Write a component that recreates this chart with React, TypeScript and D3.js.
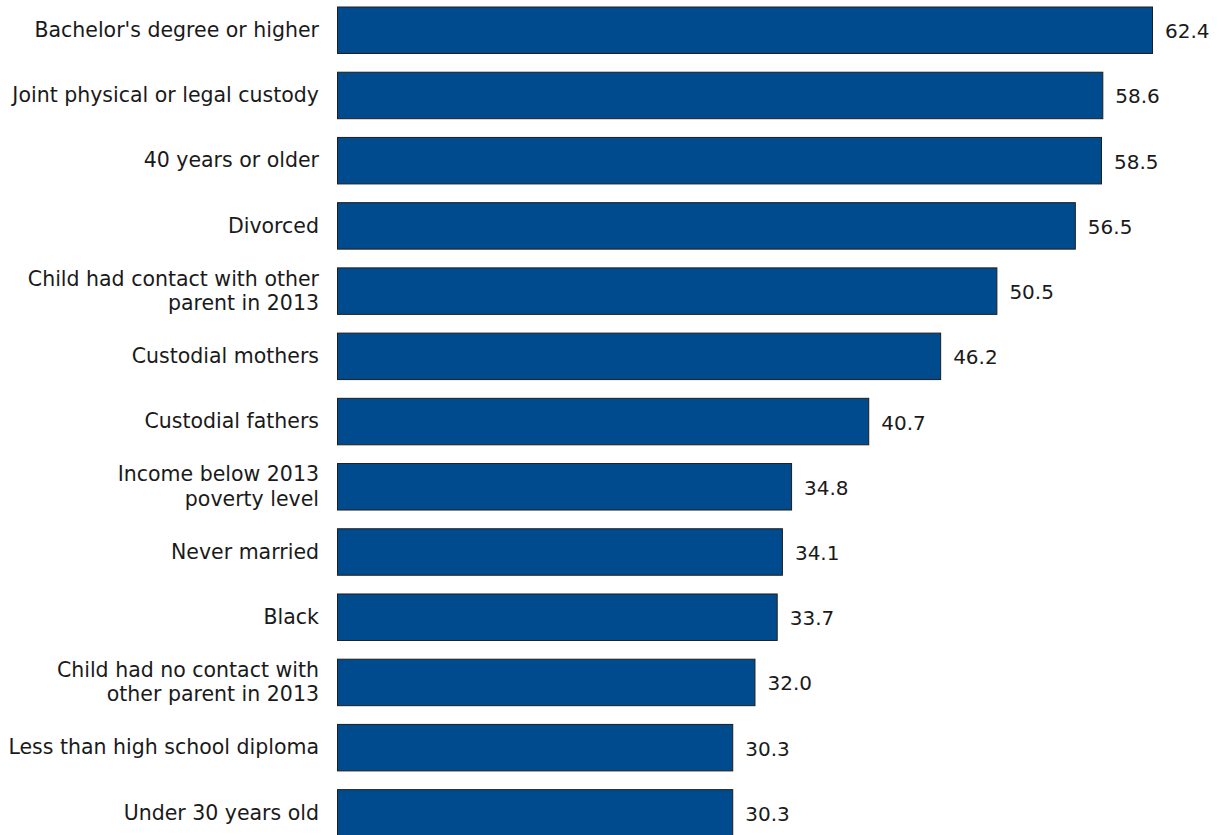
import React from "react";
import * as d3 from "d3";

const categories: string[] = [
  "Bachelor's degree or higher",
  "Joint physical or legal custody",
  "40 years or older",
  "Divorced",
  "Child had contact with other\nparent in 2013",
  "Custodial mothers",
  "Custodial fathers",
  "Income below 2013\npoverty level",
  "Never married",
  "Black",
  "Child had no contact with\nother parent in 2013",
  "Less than high school diploma",
  "Under 30 years old",
];

const values: number[] = [62.4, 58.6, 58.5, 56.5, 50.5, 46.2, 40.7, 34.8, 34.1, 33.7, 32.0, 30.3, 30.3];

const W = 1219;
const H = 835;
const FONT = "'DejaVu Sans', Verdana, sans-serif";
const FILL = "#004b8d";
const STROKE = "#1e1e1e";
const TEXT = "#1a1a1a";

export default function App() {
  const x = d3.scaleLinear().domain([0, 62.4]).range([337, 1153]);
  const step = 65.22;
  const pad = 0.272;
  const top0 = 6.5;
  const y = d3
    .scaleBand<number>()
    .domain(d3.range(categories.length))
    .range([top0, top0 + step * (categories.length - pad)])
    .paddingInner(pad)
    .paddingOuter(0);
  const bw = y.bandwidth();
  const fmt = d3.format(".1f");
  const lineH = 24.4;

  return (
    <svg
      width={W}
      height={H}
      style={{ position: "absolute", left: 0, top: 0, background: "#fff" }}
    >
      {values.map((v, i) => {
        const y0 = y(i)!;
        const cy = y0 + bw / 2;
        const lines = categories[i].split("\n");
        const firstOffset = -((lines.length - 1) * lineH) / 2;
        return (
          <g key={i}>
            <rect
              x={x(0) + 0.5}
              y={y0 + 0.5}
              width={x(v) - x(0) - 1}
              height={bw - 1}
              fill={FILL}
              stroke={STROKE}
              strokeWidth={1}
            />
            <text
              x={319}
              y={cy + firstOffset}
              textAnchor="end"
              fontFamily={FONT}
              fontSize={20.5}
              fill={TEXT}
            >
              {lines.map((ln, k) => (
                <tspan key={k} x={319} y={cy + firstOffset + k * lineH} dy="0.33em">
                  {ln}
                </tspan>
              ))}
            </text>
            <text
              x={x(v) + 12}
              y={cy}
              dy="0.4em"
              fontFamily={FONT}
              fontSize={20}
              fill={TEXT}
            >
              {fmt(v)}
            </text>
          </g>
        );
      })}
    </svg>
  );
}
